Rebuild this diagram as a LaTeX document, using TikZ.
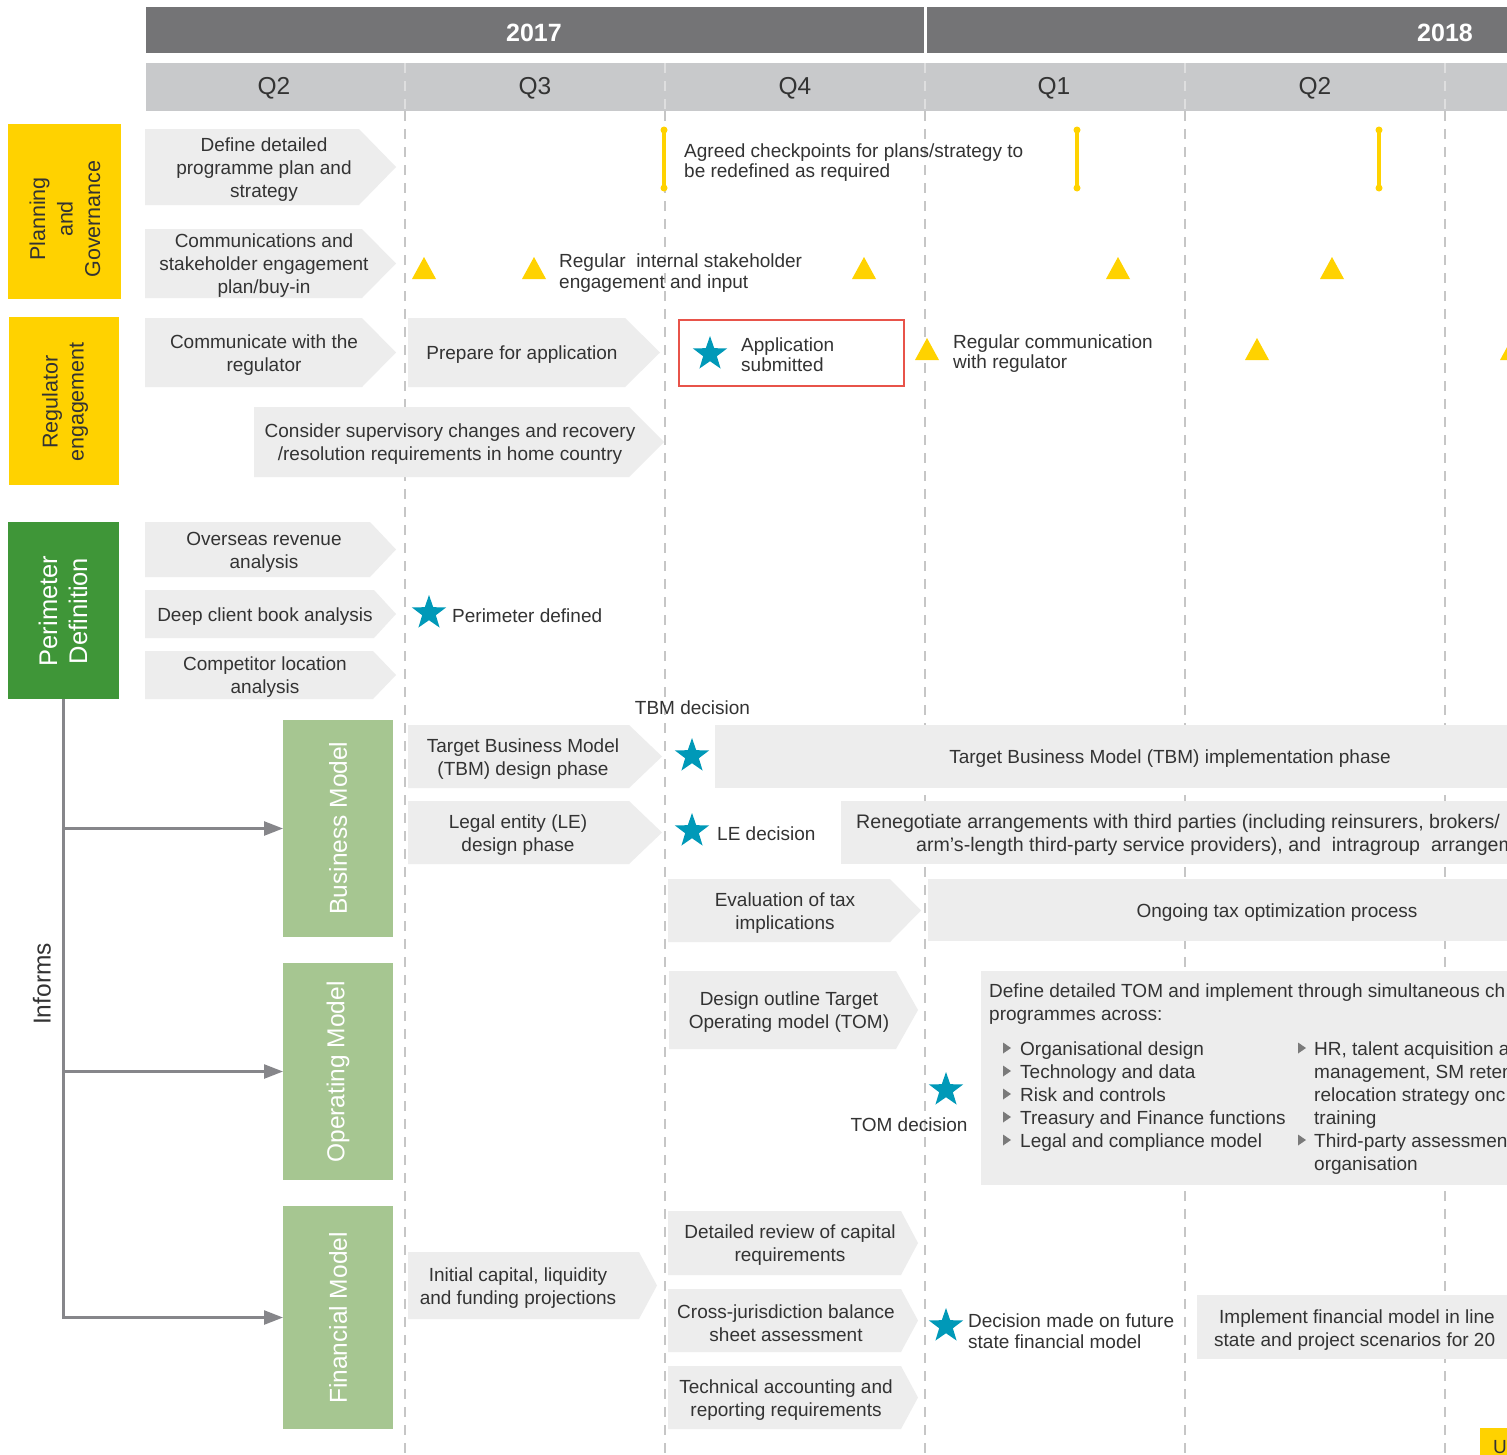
\documentclass[tikz,border=0pt]{standalone}
\usepackage{fontspec}
\setmainfont{Liberation Sans}
\usetikzlibrary{shapes.geometric,arrows.meta}
\definecolor{yearbar}{HTML}{747476}
\definecolor{qbar}{HTML}{C8C9CB}
\definecolor{chevfill}{HTML}{EDEDED}
\definecolor{ylw}{HTML}{FFD200}
\definecolor{dgreen}{HTML}{3F9638}
\definecolor{lgreen}{HTML}{A6C691}
\definecolor{starteal}{HTML}{0099B8}
\definecolor{redbox}{HTML}{E8534A}
\definecolor{gridc}{HTML}{C6C6C6}
\definecolor{txt}{HTML}{333333}
\definecolor{arrowc}{HTML}{86868A}
\definecolor{bulgray}{HTML}{7A7A7A}
\newcommand\chv[8]{%
  \fill[chevfill] (#2,#3) -- ({#4-#6},#3) -- (#4,{(#3+#5)/2}) -- ({#4-#6},#5) -- (#2,#5) -- cycle;
  \node[chevtext] (#1) at (#7,{(#3+#5)/2}) {#8};}
\newcommand\tri[3]{%
  \coordinate (#1) at (#2,#3);
  \fill[ylw] ([shift={(-12,11)}]#1) -- ([shift={(0,-11)}]#1) -- ([shift={(12,11)}]#1) -- cycle;}
\newcommand\ckbar[3]{%
  \coordinate (#1) at (#2,#3);
  \draw[checkbar] ([shift={(0,-29)}]#1) -- ([shift={(0,29)}]#1);
  \fill[ylw] ([shift={(0,-29)}]#1) circle (3.5pt);
  \fill[ylw] ([shift={(0,29)}]#1) circle (3.5pt);}
\newcommand\bulmark[3]{%
  \coordinate (#1) at (#2,#3);
  \fill[bulgray] ([shift={(0,-5.5)}]#1) -- ([shift={(8,0)}]#1) -- ([shift={(0,5.5)}]#1) -- cycle;}
\newcommand\nobl{\makebox[20pt]{}}
\newcommand\nobr{\makebox[17pt]{}}
\begin{document}
\begin{tikzpicture}[x=1pt,y=-1pt,
  chevtext/.style={font=\fontsize{19}{23}\selectfont, text=txt, align=center, inner sep=0pt, yshift=-2.5pt},
  mstext/.style={font=\fontsize{19}{20.5}\selectfont, text=txt, align=left, inner sep=0pt, anchor=west},
  catbox/.style={inner sep=0pt, outer sep=0pt},
  cattext/.style={rotate=90, align=center, inner sep=0pt},
  milestar/.style={star, star points=5, star point ratio=2.5, fill=starteal, minimum size=36pt, inner sep=0pt},
  gridline/.style={gridc, line width=2.6pt, dash pattern=on 10pt off 8pt},
  informs/.style={arrowc, line width=2.5pt},
  checkbar/.style={ylw, line width=4pt},
  yeartext/.style={font=\fontsize{25}{28}\selectfont\bfseries, text=white, inner sep=0pt},
  qtext/.style={font=\fontsize{24.5}{28}\selectfont, text=txt, inner sep=0pt},
  infl/.style={informs, -{Triangle[length=19pt,width=14pt]}}
]
\useasboundingbox (0,0) rectangle (1507,1454);
\clip (0,0) rectangle (1507,1454);
\fill[white] (0,0) rectangle (1507,1454);

% header
\fill[yearbar] (146,7) rectangle (1520,53);
\draw[white, line width=3pt] (925,7) -- (925,53);
\node[yeartext] (y2017) at (534,33) {2017};
\node[yeartext] (y2018) at (1445,33) {2018};
\fill[qbar] (146,63) rectangle (1520,111);
\foreach \x in {405,665,925,1185,1445}
  \draw[white, opacity=0.4, line width=2pt, dash pattern=on 10pt off 8pt] (\x,63) -- (\x,111);
\node[qtext] (q2a) at (274,88) {Q2};
\node[qtext] (q3) at (535,88) {Q3};
\node[qtext] (q4) at (795,88) {Q4};
\node[qtext] (q1) at (1054,88) {Q1};
\node[qtext] (q2b) at (1315,88) {Q2};

% grid lines
\foreach \x in {405,665,925,1185,1445}
  \draw[gridline] (\x,111) -- (\x,1460);

% category boxes
\node[catbox, fill=ylw, minimum width=113pt, minimum height=175pt] (pgbox) at (64.5,211.5) {};
\node[cattext, text=txt, font=\fontsize{21.5}{27.5}\selectfont] (pgtxt) at (65,219) {Planning\\and\\Governance};
\node[catbox, fill=ylw, minimum width=110pt, minimum height=168pt] (rebox) at (64,401) {};
\node[cattext, text=txt, font=\fontsize{21.5}{26}\selectfont] (retxt) at (65,402) {Regulator\\engagement};
\node[catbox, fill=dgreen, minimum width=111pt, minimum height=177pt] (pdbox) at (63.5,610.5) {};
\node[cattext, text=white, font=\fontsize{25.5}{30}\selectfont] (pdtxt) at (63,611) {Perimeter\\Definition};
\node[catbox, fill=lgreen, minimum width=110pt, minimum height=217pt] (bmbox) at (338,828.5) {};
\node[cattext, text=white, font=\fontsize{24.5}{28}\selectfont] (bmtxt) at (338,828) {Business Model};
\node[catbox, fill=lgreen, minimum width=110pt, minimum height=217pt] (ombox) at (338,1071.5) {};
\node[cattext, text=white, font=\fontsize{24.5}{28}\selectfont] (omtxt) at (338,1072) {Operating Model};
\node[catbox, fill=lgreen, minimum width=110pt, minimum height=223pt] (fmbox) at (338,1317.5) {};
\node[cattext, text=white, font=\fontsize{24.5}{28}\selectfont] (fmtxt) at (338,1318) {Financial Model};

% informs connectors
\draw[infl] (pdbox.south) -- (pdbox.south |- fmbox.west) -- (fmbox.west);
\draw[infl] (pdbox.south |- bmbox.west) -- (bmbox.west);
\draw[infl] (pdbox.south |- ombox.west) -- (ombox.west);
\node[rotate=90, inner sep=0pt, text=txt, font=\fontsize{24.5}{28}\selectfont] (informs) at (42,984) {Informs};

% planning & governance
\chv{pg1}{145}{129}{396}{205}{37}{264}{Define detailed\\programme plan and\\strategy}
\chv{pg2}{145}{229}{396}{298}{34}{264}{Communications and\\stakeholder engagement\\plan/buy-in}
\ckbar{ck1}{664}{159}
\ckbar{ck2}{1077}{159}
\ckbar{ck3}{1379}{159}
\node[mstext] (cktext) at (684,162.5) {Agreed checkpoints for plans/strategy to\\be redefined as required};
\tri{t1}{424}{268}
\tri{t2}{534}{268}
\tri{t3}{864}{268}
\tri{t4}{1118}{268}
\tri{t5}{1332}{268}
\node[mstext] (intstake) at (559,273) {Regular~ internal stakeholder\\engagement and input};

% regulator
\chv{re1}{145}{318}{396}{387}{34}{264}{Communicate with the\\regulator}
\chv{re2}{408}{318}{660}{387}{35}{522}{Prepare for application}
\chv{re3}{254}{407}{664}{477}{35}{450}{Consider supervisory changes and recovery\\/resolution requirements in home country}
\draw[redbox, line width=2.5pt] (679,320) rectangle (904,386);
\node[milestar] (stapp) at (710,354) {};
\node[mstext] (apptext) at (741,354.5) {Application\\submitted};
\tri{t6}{927}{349}
\tri{t7}{1257}{349}
\tri{t8}{1512}{349}
\node[mstext] (regcomm) at (953,353.5) {Regular communication\\with regulator};

% perimeter
\chv{pd1}{145}{522}{396}{577}{26}{264}{Overseas revenue\\analysis}
\chv{pd2}{145}{590}{396}{638}{22}{265}{Deep client book analysis}
\chv{pd3}{145}{651}{396}{699}{23}{265}{Competitor location\\analysis}
\node[milestar] (stper) at (429,613) {};
\node[mstext] (pertext) at (452,616) {Perimeter defined};

% business model
\node[chevtext] (tbmdec) at (692.5,705) {TBM decision};
\chv{bm1}{408}{725}{662}{788}{33}{523}{Target Business Model\\(TBM) design phase}
\node[milestar] (sttbm) at (692,756) {};
\fill[chevfill] (715,725) rectangle (1520,788);
\node[chevtext] (tbmimpl) at (1170,756) {Target Business Model (TBM) implementation phase};
\chv{bm2}{408}{801}{662}{864}{33}{518}{Legal entity (LE)\\design phase}
\node[milestar] (stle) at (692,831) {};
\node[mstext] (letext) at (717,834) {LE decision};
\fill[chevfill] (841,801) rectangle (1520,864);
\node[mstext, font=\fontsize{19.6}{23}\selectfont] (reneg1) at (856,823.5) {Renegotiate arrangements with third parties (including reinsurers, brokers/};
\node[mstext, font=\fontsize{19.6}{23}\selectfont] (reneg2) at (916,846.5) {arm’s-length third-party service providers), and~ intragroup~ arrangem};
\chv{bm3}{668}{879}{921}{942}{31}{785}{Evaluation of tax\\implications}
\fill[chevfill] (928,879) rectangle (1520,941);
\node[chevtext] (taxopt) at (1277,910) {Ongoing tax optimization process};

% operating model
\chv{om1}{669}{971}{918}{1049}{22}{789}{Design outline Target\\Operating model (TOM)}
\node[milestar] (sttom) at (946,1090) {};
\node[chevtext] (tomdec) at (909,1122.5) {TOM decision};
\fill[chevfill] (981,971) rectangle (1520,1185);
\node[anchor=north west, chevtext, align=left] (tomhead) at (989,981.5) {Define detailed TOM and implement through simultaneous ch\\programmes across:};
\node[anchor=north west, chevtext, align=left] (tomlistA) at (1000,1039) {\nobl Organisational design\\\nobl Technology and data\\\nobl Risk and controls\\\nobl Treasury and Finance functions\\\nobl Legal and compliance model};
\node[anchor=north west, chevtext, align=left] (tomlistB) at (1297,1039) {\nobr HR, talent acquisition a\\\nobr management, SM reten\\\nobr relocation strategy onc\\\nobr training\\\nobr Third-party assessmen\\\nobr organisation};
\bulmark{ba1}{1003}{1048}
\bulmark{ba2}{1003}{1071}
\bulmark{ba3}{1003}{1094}
\bulmark{ba4}{1003}{1117}
\bulmark{ba5}{1003}{1140}
\bulmark{bb1}{1298}{1048}
\bulmark{bb2}{1298}{1140}

% financial model
\chv{fm1}{408}{1252}{657}{1319}{18}{518}{Initial capital, liquidity\\and funding projections}
\chv{fm2}{668}{1211}{918}{1275}{17}{790}{Detailed review of capital\\requirements}
\chv{fm3}{668}{1289}{918}{1352}{17}{786}{Cross-jurisdiction balance\\sheet assessment}
\chv{fm4}{668}{1366}{918}{1429}{17}{786}{Technical accounting and\\reporting requirements}
\node[milestar] (stfm) at (946,1326) {};
\node[mstext] (fmdec) at (968,1331) {Decision made on future\\state financial model};
\fill[chevfill] (1197,1295) rectangle (1520,1359);
\node[mstext, font=\fontsize{19}{23}\selectfont] (fmimpl) at (1214,1330.5) {\hspace*{5pt}Implement financial model in line\\state and project scenarios for 20};
\fill[ylw] (1480,1428) rectangle (1520,1460);
\node[anchor=north west, inner sep=0pt, text=txt, font=\fontsize{19}{23}\selectfont] (ubox) at (1493,1440) {U};
\end{tikzpicture}
\end{document}
